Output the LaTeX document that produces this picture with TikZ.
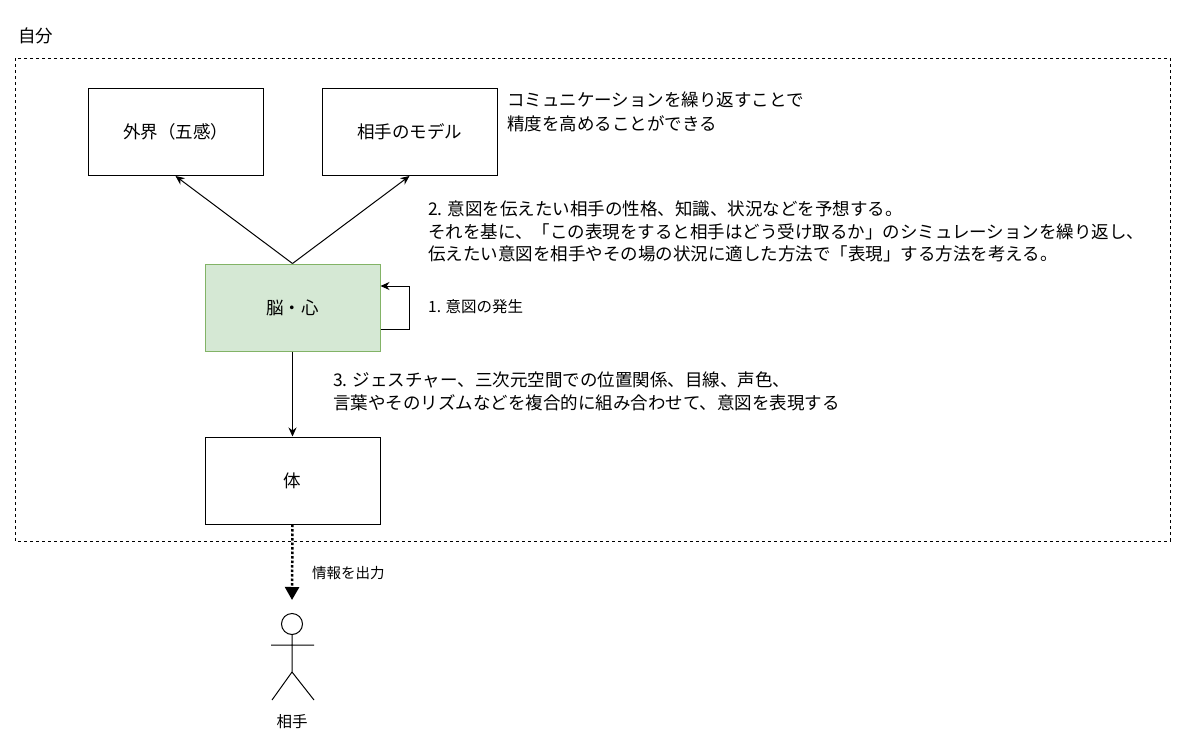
\documentclass[tikz,border=0pt]{standalone}
\usepackage{fontspec}
\setmainfont{Noto Sans CJK JP}
\usetikzlibrary{arrows.meta}
\begin{document}
\begin{tikzpicture}[x=1pt,y=-1pt,
  box/.style={draw,line width=1pt,minimum width=175pt,minimum height=87pt,font=\fontsize{17.5}{20}\selectfont},
  txt/.style={anchor=west,align=left,font=\fontsize{17.5}{22.5}\selectfont,inner sep=0},
  arr/.style={-{Stealth[length=9pt,width=8pt]},line width=1pt}]
\useasboundingbox (0,0) rectangle (1200,747);
\node[txt] (self) at (18,36) {自分};
\draw[dashed,line width=0.9pt] (15,58) rectangle (1170,541);
\node[box] (gai) at (175.5,132) {外界（五感）};
\node[box] (model) at (409.5,132) {相手のモデル};
\node[txt,anchor=north west,font=\fontsize{17.5}{24}\selectfont] (t0) at (507,92) {コミュニケーションを繰り返すことで\\精度を高めることができる};
\node[box,fill={rgb,255:red,213;green,232;blue,212},draw={rgb,255:red,130;green,179;blue,102}] (brain) at (292.5,307.5) {脳・心};
\draw[arr] (brain.north) -- (gai.south);
\draw[arr] (brain.north) -- (model.south);
\draw[arr] ([yshift=-21.5pt]brain.east) -- ++(29,0) -- ++(0,-43) -- ([yshift=21.5pt]brain.east);
\node[txt,font=\fontsize{15.5}{18}\selectfont] (t1) at (428,307) {1. 意図の発生};
\node[txt,anchor=north west] (t2) at (428,201) {2. 意図を伝えたい相手の性格、知識、状況などを予想する。\\それを基に、「この表現をすると相手はどう受け取るか」のシミュレーションを繰り返し、\\伝えたい意図を相手やその場の状況に適した方法で「表現」する方法を考える。};
\node[box] (body) at (292.5,480.5) {体};
\draw[arr] (brain.south) -- (body.north);
\node[txt,anchor=north west] (t3) at (333,372) {3. ジェスチャー、三次元空間での位置関係、目線、声色、\\言葉やそのリズムなどを複合的に組み合わせて、意図を表現する};
\coordinate (pt) at (292,600);
\draw[line width=2.5pt,dotted,-{Triangle[length=13pt,width=14pt]}] (body.south) -- (pt);
\node[txt,font=\fontsize{14.5}{17}\selectfont] (t4) at (312,573) {情報を出力};
\node[draw,circle,line width=1pt,minimum size=21pt,inner sep=0] (head) at (292,624) {};
\draw[line width=1pt] (head.south) -- (292,672) (271,645) -- (314,645) (272,700) -- (292,672) -- (314,700);
\node[txt,anchor=center,font=\fontsize{15.5}{17}\selectfont] (aite) at (292,722) {相手};
\end{tikzpicture}
\end{document}
